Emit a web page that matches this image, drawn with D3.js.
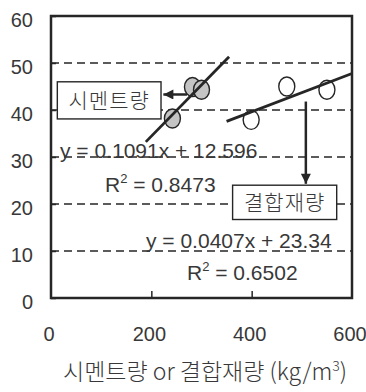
<!DOCTYPE html>
<html>
<head>
<meta charset="utf-8">
<script src="https://cdn.jsdelivr.net/npm/d3@7"></script>
<style>
  html, body { margin: 0; padding: 0; background: #fff; }
  svg { display: block; }
  .num { font-family: "Liberation Sans", Arial, Helvetica, sans-serif; fill: #383838; }
  .kor { font-family: "Noto Sans CJK KR", sans-serif; fill: #383838; font-weight: 300; }
</style>
</head>
<body>
<svg id="chart" width="366" height="392"></svg>
<script>
// Cement content series (filled markers)
const cementX = [242, 282, 300];
const cementY = [38.2, 44.9, 44.3];
// Binder content series (open markers)
const binderX = [399, 470, 550];
const binderY = [37.9, 45.0, 44.3];

// Linear fits: slope, intercept, R², and the x-span each fit line covers
const cementFit = { slope: 0.1091, intercept: 12.596, r2: "0.8473", from: 189, to: 355 };
const binderFit = { slope: 0.0407, intercept: 23.34, r2: "0.6502", from: 350, to: 600 };

const xTicks = [0, 200, 400, 600];
const yTicks = [0, 10, 20, 30, 40, 50, 60];
const gridY = [10, 20, 30, 40, 50];

const svg = d3.select("#chart");
const plot = { left: 51, right: 352, top: 16, bottom: 298 };

const x = d3.scaleLinear().domain([0, 600]).range([plot.left, plot.right]);
const y = d3.scaleLinear().domain([0, 60]).range([plot.bottom, plot.top]);

const ink = "#262626";

// dashed horizontal gridlines
svg.append("g").selectAll("line").data(gridY).join("line")
  .attr("x1", plot.left).attr("x2", plot.right)
  .attr("y1", d => y(d)).attr("y2", d => y(d))
  .attr("stroke", ink).attr("stroke-width", 1.3)
  .attr("stroke-dasharray", "8,5");

// inward ticks on the left axis
const yAxis = d3.axisRight(y).tickValues(yTicks).tickSize(5).tickFormat("");
svg.append("g").attr("transform", `translate(${plot.left},0)`).call(yAxis)
  .call(g => g.select(".domain").remove())
  .call(g => g.selectAll("line").attr("stroke", ink).attr("stroke-width", 1.5));

// inward ticks on the bottom axis
const xAxis = d3.axisTop(x).tickValues([200, 400]).tickSize(7).tickFormat("");
svg.append("g").attr("transform", `translate(0,${plot.bottom})`).call(xAxis)
  .call(g => g.select(".domain").remove())
  .call(g => g.selectAll("line").attr("stroke", ink).attr("stroke-width", 1.5));

// plot frame
svg.append("rect")
  .attr("x", plot.left).attr("y", plot.top)
  .attr("width", plot.right - plot.left).attr("height", plot.bottom - plot.top)
  .attr("fill", "none").attr("stroke", ink).attr("stroke-width", 2.5);

// tick labels
svg.append("g").selectAll("text").data(yTicks).join("text")
  .attr("class", "num")
  .attr("x", 33).attr("y", d => y(d) + 11)
  .attr("text-anchor", "end").attr("font-size", 20)
  .text(d => d);

svg.append("g").selectAll("text").data(xTicks).join("text")
  .attr("class", "num")
  .attr("x", d => x(d) - 2).attr("y", 341)
  .attr("text-anchor", "middle").attr("font-size", 20)
  .text(d => d);

// axis title
const title = svg.append("text")
  .attr("class", "kor")
  .attr("x", 205).attr("y", 380)
  .attr("text-anchor", "middle").attr("font-size", 23);
title.append("tspan").text("시멘트량 or 결합재량 (kg/m");
title.append("tspan").attr("font-size", 14).attr("dy", -9).text("3");
title.append("tspan").attr("dy", 9).text(")");

// markers
svg.append("g").selectAll("ellipse").data(d3.zip(cementX, cementY)).join("ellipse")
  .attr("cx", d => x(d[0])).attr("cy", d => y(d[1]))
  .attr("rx", 8).attr("ry", 9.5)
  .attr("fill", "#c4c4c4").attr("stroke", ink).attr("stroke-width", 1.4);

svg.append("g").selectAll("ellipse").data(d3.zip(binderX, binderY)).join("ellipse")
  .attr("cx", d => x(d[0])).attr("cy", d => y(d[1]))
  .attr("rx", 8).attr("ry", 9.5)
  .attr("fill", "#fff").attr("stroke", ink).attr("stroke-width", 1.4);

// fit lines
[cementFit, binderFit].forEach(f => {
  svg.append("line")
    .attr("x1", x(f.from)).attr("y1", y(f.slope * f.from + f.intercept))
    .attr("x2", x(f.to)).attr("y2", y(f.slope * f.to + f.intercept))
    .attr("stroke", ink).attr("stroke-width", 2.8);
});

// arrowhead marker
svg.append("defs").append("marker")
  .attr("id", "head").attr("viewBox", "0 0 10 10")
  .attr("refX", 10).attr("refY", 5)
  .attr("markerUnits", "userSpaceOnUse")
  .attr("markerWidth", 13).attr("markerHeight", 10)
  .attr("orient", "auto")
  .append("path").attr("d", "M0,0 L10,5 L0,10 Z").attr("fill", ink);

// callout arrows
svg.append("line")
  .attr("x1", x(271)).attr("y1", y(43.3))
  .attr("x2", x(224)).attr("y2", y(43.3))
  .attr("stroke", ink).attr("stroke-width", 2.5)
  .attr("marker-end", "url(#head)");

svg.append("line")
  .attr("x1", x(508)).attr("y1", y(41.8))
  .attr("x2", x(508)).attr("y2", y(24.3))
  .attr("stroke", ink).attr("stroke-width", 2.5)
  .attr("marker-end", "url(#head)");

// callout boxes
function callout(x0, x1, yTop, yBot, label) {
  svg.append("rect")
    .attr("x", x(x0)).attr("y", y(yTop))
    .attr("width", x(x1) - x(x0)).attr("height", y(yBot) - y(yTop))
    .attr("fill", "#fff").attr("stroke", ink).attr("stroke-width", 1.4);
  svg.append("text").attr("class", "kor")
    .attr("x", (x(x0) + x(x1)) / 2).attr("y", (y(yTop) + y(yBot)) / 2)
    .attr("dy", "0.36em")
    .attr("text-anchor", "middle").attr("font-size", 21)
    .attr("letter-spacing", 1)
    .text(label);
}
callout(12.6, 219.3, 46.0, 38.1, "시멘트량");
callout(362, 569.5, 24.0, 16.7, "결합재량");

// fit equations
function equation(f, ex, ey, rx, ry) {
  svg.append("text").attr("class", "num")
    .attr("x", ex).attr("y", ey).attr("font-size", 21)
    .text(`y = ${f.slope}x + ${f.intercept}`);
  const r = svg.append("text").attr("class", "num")
    .attr("x", rx).attr("y", ry).attr("font-size", 21);
  r.append("tspan").text("R");
  r.append("tspan").attr("font-size", 13).attr("dy", -9).text("2");
  r.append("tspan").attr("dy", 9).text(` = ${f.r2}`);
}
equation(cementFit, 60, 158, 105, 192);
equation(binderFit, 146, 248, 187, 280);
</script>
</body>
</html>
